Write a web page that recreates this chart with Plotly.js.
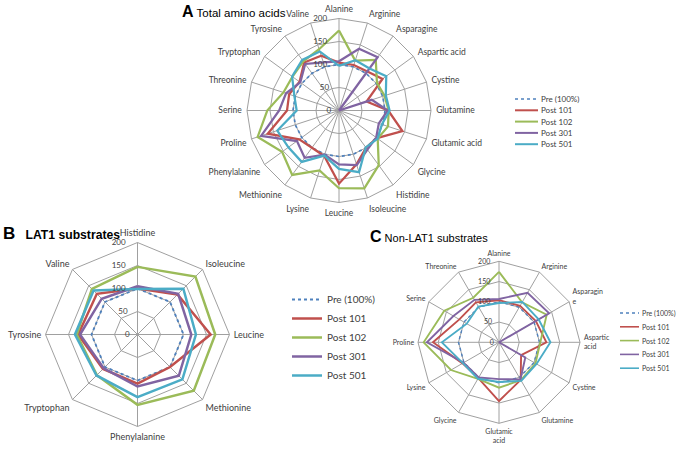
<!DOCTYPE html>
<html><head><meta charset="utf-8">
<script src="https://cdn.plot.ly/plotly-3.0.1.min.js"></script>
<style>html,body{margin:0;padding:0;background:#fff}#chart{width:677px;height:449px}</style>
</head><body><div id="chart"></div>
<script>
// ---------- data ----------
const aminoAcids = ["Alanine","Arginine","Asparagine","Aspartic acid","Cystine","Glutamine","Glutamic acid","Glycine","Histidine","Isoleucine","Leucine","Lysine","Methionine","Phenylalanine","Proline","Serine","Threonine","Tryptophan","Tyrosine","Valine"];
const lat1Substrates = ["Histidine","Isoleucine","Leucine","Methionine","Phenylalanine","Tryptophan","Tyrosine","Valine"];
const nonLat1Substrates = ["Alanine","Arginine","Asparagine","Aspartic acid","Cystine","Glutamine","Glutamic acid","Glycine","Lysine","Proline","Serine","Threonine"];
const nonLat1Labels = ["Alanine","Arginine","Asparagin<br>e","Aspartic<br>acid","Cystine","Glutamine","Glutamic<br>acid","Glycine","Lysine","Proline","Serine","Threonine"];
const seriesNames = ["Pre (100%)","Post 101","Post 102","Post 301","Post 501"];
const pre100  = [100,100,100,100,100,100,100,100,100,100,100,100,100,100,100,100,100,100,100,100];
const post101 = [104,104,105,117,63,107,145,102,100,123,159,104,100,107,163,113,114,106,129,125];
const post102 = [174,114,136,102,104,108,112,104,147,178,169,137,173,153,186,156,127,125,132,140];
const post301 = [107,141,143,0,75,106,91,100,105,125,117,101,127,113,178,130,121,104,125,110];
const post501 = [97,115,113,127,107,110,98,104,99,141,127,103,138,136,141,92,102,126,136,135];
const radialTicks = [0,50,100,150,200];
const panelTitles = [["A","Total amino acids"],["B","LAT1 substrates"],["C","Non-LAT1 substrates"]];

// ---------- styling ----------
const W = 677, H = 449;
const seriesData = [pre100, post101, post102, post301, post501];
const colors = ["#4F81BD","#C0504D","#9BBB59","#8064A2","#4BACC6"];
const dashes = ["dot","solid","solid","solid","solid"];
const gridColor = "#a0a0a0";
const txtColor = "#404040";
const NBSP = "\u00a0";

function pick(values, cats){
  return cats.map(c => values[aminoAcids.indexOf(c)]);
}
function closeLoop(a){ return a.concat([a[0]]); }

const traces = [];
const panels = [
  {sub:"polar",  cats: aminoAcids,        width:2.25, legend:false},
  {sub:"polar2", cats: lat1Substrates,    width:2.5,  legend:true},
  {sub:"polar3", cats: nonLat1Substrates, width:1.9,  legend:false}
];
panels.forEach(p => {
  seriesData.forEach((vals, i) => {
    traces.push({
      type:"scatterpolar", mode:"lines", subplot:p.sub,
      r: closeLoop(pick(vals, p.cats)),
      theta: closeLoop(p.cats.slice()),
      name: seriesNames[i],
      showlegend: p.legend,
      line:{color:colors[i], width: i===0 ? (p.width*0.75) : p.width, dash:dashes[i]},
      hoverinfo:"skip"
    });
  });
});

function polarCfg(cx, cy, R, cats, angFont, radFont, tlen, padExtra, ticktext){
  const ang = {
    type:"category", categoryorder:"array", categoryarray:cats,
    rotation:90, direction:"clockwise",
    showline:true, linecolor:gridColor, linewidth:1,
    showgrid:true, gridcolor:gridColor, gridwidth:1,
    ticks:"outside", ticklen:tlen, tickcolor:"rgba(0,0,0,0)",
    tickfont:{family:"Lato", size:angFont, color:txtColor}
  };
  if (ticktext){ ang.tickmode="array"; ang.tickvals=cats.map((c,i)=>i); ang.ticktext=ticktext; }
  return {
    domain:{x:[(cx-R)/W,(cx+R)/W], y:[(H-cy-R)/H,(H-cy+R)/H]},
    bgcolor:"rgba(0,0,0,0)",
    gridshape:"linear",
    angularaxis: ang,
    radialaxis:{
      range:[0,200], tickmode:"array", tickvals:radialTicks,
      // pad right side so the label sits to the left of the vertical axis
      ticktext:radialTicks.map(v => String(v) + NBSP.repeat(String(v).length + padExtra)),
      angle:90, side:"counterclockwise", tickangle:90,
      showline:false, showgrid:true, gridcolor:gridColor, gridwidth:1, ticks:"",
      tickfont:{family:"Lato", size:radFont, color:txtColor}
    }
  };
}

const shapes = [], annotations = [];
function manualLegend(x0, y0, dy, len, fontSize, lw){
  seriesNames.forEach((name, i) => {
    const y = y0 + i*dy;
    shapes.push({type:"line", xref:"paper", yref:"paper",
      x0:x0/W, x1:(x0+len)/W, y0:1-y/H, y1:1-y/H,
      line:{color:colors[i], width: i===0 ? lw*0.8 : lw, dash:dashes[i]}});
    annotations.push({xref:"paper", yref:"paper", x:(x0+len+1)/W, y:1-y/H,
      xanchor:"left", yanchor:"middle", showarrow:false, text:name,
      font:{family:"Lato", size:fontSize, color:txtColor}});
  });
}
manualLegend(515, 99, 11.3, 23, 8, 2);
manualLegend(620, 313, 13.8, 19, 7, 1.6);

function title(x, y, t, letterSize, textSize, boldText, gap){
  annotations.push({xref:"paper", yref:"paper", x:x/W, y:1-y/H, xanchor:"left", yanchor:"middle",
    showarrow:false,
    text:"<b><span style='font-size:"+letterSize+"px'>"+t[0]+"</span></b>"+gap+(boldText?"<b>"+t[1]+"</b>":t[1]),
    font:{family:"Liberation Sans", size:textSize, color:"#000"}});
}
title(180, 12, panelTitles[0], 16, 11.5, false, " ");
title(1, 234, panelTitles[1], 17, 12.2, true, NBSP+NBSP+" ");
title(368, 237, panelTitles[2], 16, 11, false, " ");

const layout = {
  width:W, height:H, margin:{l:0,r:0,t:0,b:0},
  paper_bgcolor:"#fff", plot_bgcolor:"#fff",
  font:{family:"Lato", color:txtColor},
  polar:  polarCfg(339, 110.5, 92, aminoAcids, 8.5, 8, 3, 2),
  polar2: polarCfg(137.5, 334.5, 92, lat1Substrates, 9, 8, 2, 2),
  polar3: polarCfg(499, 342.3, 81, nonLat1Substrates, 7, 7, 2, 1, nonLat1Labels),
  legend:{x:287/W, y:1-285/H, xanchor:"left", yanchor:"top",
    font:{family:"Lato", size:10, color:txtColor}, bgcolor:"rgba(0,0,0,0)"},
  shapes: shapes,
  annotations: annotations
};
Plotly.newPlot("chart", traces, layout, {staticPlot:true, displayModeBar:false});
</script>
</body></html>
